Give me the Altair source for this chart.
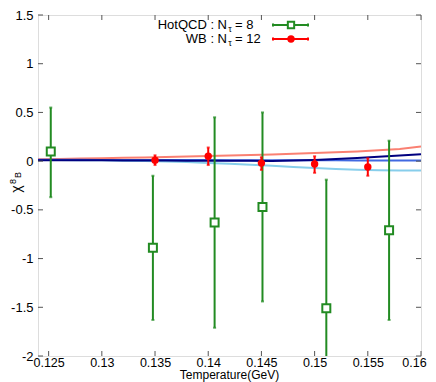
import altair as alt
import pandas as pd

# HotQCD N_tau = 8
hot_T = [0.1252, 0.1348, 0.1406, 0.1451, 0.1511, 0.1570]
hot_y = [0.10, -0.89, -0.63, -0.47, -1.51, -0.71]
hot_lo = [-0.37, -1.63, -1.71, -1.44, -2.82, -1.63]
hot_hi = [0.55, -0.15, 0.45, 0.50, -0.19, 0.21]

# WB N_tau = 12
wb_T = [0.135, 0.140, 0.145, 0.150, 0.155]
wb_y = [0.01, 0.05, -0.02, -0.03, -0.06]
wb_lo = [-0.04, -0.04, -0.09, -0.12, -0.15]
wb_hi = [0.06, 0.14, 0.04, 0.05, 0.03]

# model curves
curve_T = [0.124, 0.126, 0.128, 0.130, 0.132, 0.134, 0.136, 0.138, 0.140, 0.142,
           0.144, 0.146, 0.148, 0.150, 0.152, 0.154, 0.156, 0.158, 0.160]
salmon_y = [0.020, 0.023, 0.026, 0.030, 0.034, 0.038, 0.042, 0.047, 0.052, 0.057,
            0.063, 0.069, 0.076, 0.083, 0.091, 0.100, 0.111, 0.125, 0.150]
sky_y = [0.012, 0.011, 0.010, 0.008, 0.005, 0.001, -0.004, -0.010, -0.018, -0.027,
         -0.037, -0.048, -0.060, -0.071, -0.081, -0.088, -0.093, -0.095, -0.096]
royal_y = [0.015, 0.014, 0.014, 0.013, 0.013, 0.012, 0.012, 0.011, 0.011, 0.010,
           0.010, 0.009, 0.009, 0.008, 0.008, 0.007, 0.007, 0.006, 0.006]
navy_y = [0.010, 0.009, 0.009, 0.008, 0.007, 0.006, 0.006, 0.005, 0.004, 0.003,
          0.003, 0.002, 0.006, 0.012, 0.021, 0.033, 0.045, 0.058, 0.072]

x_ticks = [0.125, 0.13, 0.135, 0.14, 0.145, 0.15, 0.155, 0.16]
y_ticks = [1.5, 1, 0.5, 0, -0.5, -1, -1.5, -2]

W, H = 383, 341
FONT = "Liberation Sans"
GREEN = "#228B22"
RED = "#FF0000"

xs = alt.Scale(domain=[0.124, 0.16], nice=False, zero=False)
ys = alt.Scale(domain=[-2, 1.5], nice=False, zero=False)

hot = pd.DataFrame({"T": hot_T, "y": hot_y, "lo": hot_lo, "hi": hot_hi})
wb = pd.DataFrame({"T": wb_T, "y": wb_y, "lo": wb_lo, "hi": wb_hi})
curves = pd.concat([
    pd.DataFrame({"T": curve_T, "y": salmon_y, "c": "a"}),
    pd.DataFrame({"T": curve_T, "y": sky_y, "c": "b"}),
    pd.DataFrame({"T": curve_T, "y": royal_y, "c": "c"}),
    pd.DataFrame({"T": curve_T, "y": navy_y, "c": "d"}),
])

X = alt.X("T:Q", scale=xs, axis=alt.Axis(values=x_ticks, labelExpr="'' + datum.value",
                                           domain=False, ticks=False, grid=False,
                                           labelFont=FONT, labelFontSize=12.5, labelColor="black",
                                           labelPadding=0, labelFlush=False, title=None,
                                           labelOffset={"condition": {"test": "datum.value >= 0.16", "value": -7},
                                                        "value": 0}))
Y = alt.Y("y:Q", scale=ys, axis=alt.Axis(values=y_ticks, labelExpr="'' + datum.value",
                                           domain=False, ticks=False, grid=False,
                                           labelFont=FONT, labelFontSize=13, labelColor="black",
                                           labelPadding=5, labelFlush=False, title=None))

base_curves = alt.Chart(curves).mark_line(strokeWidth=2, clip=True).encode(
    x=X, y=Y,
    color=alt.Color("c:N", scale=alt.Scale(domain=["a", "b", "c", "d"],
                                           range=["#FA8072", "#87CEEB", "#4169E1", "#000080"]),
                    legend=None),
    order=alt.Order("T:Q"),
)

hot_bar = alt.Chart(hot).mark_rule(color=GREEN, strokeWidth=2, clip=True).encode(
    x="T:Q", y="lo:Q", y2="hi:Q")
hot_cap_lo = alt.Chart(hot).mark_tick(color=GREEN, thickness=2, size=3, orient="horizontal", clip=True).encode(
    x="T:Q", y="lo:Q")
hot_cap_hi = alt.Chart(hot).mark_tick(color=GREEN, thickness=2, size=3, orient="horizontal", clip=True).encode(
    x="T:Q", y="hi:Q")
hot_pt = alt.Chart(hot).mark_point(shape="square", size=64, filled=True, fill="white",
                                    stroke=GREEN, strokeWidth=2, opacity=1).encode(
    x="T:Q", y="y:Q")

wb_bar = alt.Chart(wb).mark_rule(color=RED, strokeWidth=2).encode(x="T:Q", y="lo:Q", y2="hi:Q")
wb_cap_lo = alt.Chart(wb).mark_tick(color=RED, thickness=2, size=3, orient="horizontal").encode(x="T:Q", y="lo:Q")
wb_cap_hi = alt.Chart(wb).mark_tick(color=RED, thickness=2, size=3, orient="horizontal").encode(x="T:Q", y="hi:Q")
wb_pt = alt.Chart(wb).mark_circle(size=55, color=RED, opacity=1).encode(x="T:Q", y="y:Q")

# inward ticks on all four sides
xt = pd.DataFrame({"T": x_ticks})
yt = pd.DataFrame({"y": y_ticks})
TICK = "#555555"
tb = alt.Chart(xt).mark_rule(color=TICK, strokeWidth=1).encode(x="T:Q", y=alt.value(H), y2=alt.value(H - 5))
tt = alt.Chart(xt).mark_rule(color=TICK, strokeWidth=1).encode(x="T:Q", y=alt.value(0), y2=alt.value(5))
tl = alt.Chart(yt).mark_rule(color=TICK, strokeWidth=1).encode(y="y:Q", x=alt.value(0), x2=alt.value(5))
tr = alt.Chart(yt).mark_rule(color=TICK, strokeWidth=1).encode(y="y:Q", x=alt.value(W), x2=alt.value(W - 5))


def txt(s, x, y, size, angle=270, align="center", baseline="middle"):
    return alt.Chart(pd.DataFrame({"s": [s]})).mark_text(
        font=FONT, fontSize=size, color="black", angle=angle, align=align, baseline=baseline
    ).encode(text="s:N", x=alt.value(x), y=alt.value(y))


# y-axis title chi^8_B (rotated) and x-axis title
ytitle = txt("χ", -21, 174, 14) + txt("8", -25.5, 166.5, 9) + txt("B", -20, 160, 9)
xtitle = txt("Temperature(GeV)", W / 2, H + 14, 12, angle=0, baseline="top")

# legend
leg_rows = [("HotQCD : N", "= 8", 10), ("WB : N", "= 12", 24)]
legend = None
for a, b, yy in leg_rows:
    part = (txt(a, 189, yy, 13, angle=0, align="right")
            + txt("τ", 192, yy + 4, 9, angle=0)
            + txt(b, 197, yy, 13, angle=0, align="left"))
    legend = part if legend is None else legend + part


def hrule(color, x1, x2, y):
    return alt.Chart(pd.DataFrame({"a": [0]})).mark_rule(color=color, strokeWidth=2).encode(
        x=alt.value(x1), x2=alt.value(x2), y=alt.value(y))


def vrule(color, x, y1, y2):
    return alt.Chart(pd.DataFrame({"a": [0]})).mark_rule(color=color, strokeWidth=2).encode(
        x=alt.value(x), y=alt.value(y1), y2=alt.value(y2))


leg_marks = (hrule(GREEN, 235, 270, 10) + vrule(GREEN, 235, 8.5, 11.5) + vrule(GREEN, 270, 8.5, 11.5)
             + hrule(RED, 235, 270, 24) + vrule(RED, 235, 22.5, 25.5) + vrule(RED, 270, 22.5, 25.5))
lg_pt = alt.Chart(pd.DataFrame({"a": [0]})).mark_point(shape="square", size=40, filled=True, fill="white",
                                                      stroke=GREEN, strokeWidth=2, opacity=1).encode(
    x=alt.value(253), y=alt.value(10))
lr_pt = alt.Chart(pd.DataFrame({"a": [0]})).mark_circle(size=55, color=RED, opacity=1).encode(
    x=alt.value(253), y=alt.value(24))

chart = alt.layer(
    base_curves, hot_bar, hot_cap_lo, hot_cap_hi, hot_pt,
    wb_bar, wb_cap_lo, wb_cap_hi, wb_pt,
    tb, tt, tl, tr, ytitle, xtitle, legend, leg_marks, lg_pt, lr_pt,
).properties(
    width=W, height=H,
    autosize=alt.AutoSizeParams(type="none"),
    padding={"left": 30, "top": 7, "right": 7, "bottom": 26},
).configure_view(stroke="#808080", strokeWidth=1).configure(background="white")

chart.save("out.html", embed_options={"renderer": "svg", "actions": False})
